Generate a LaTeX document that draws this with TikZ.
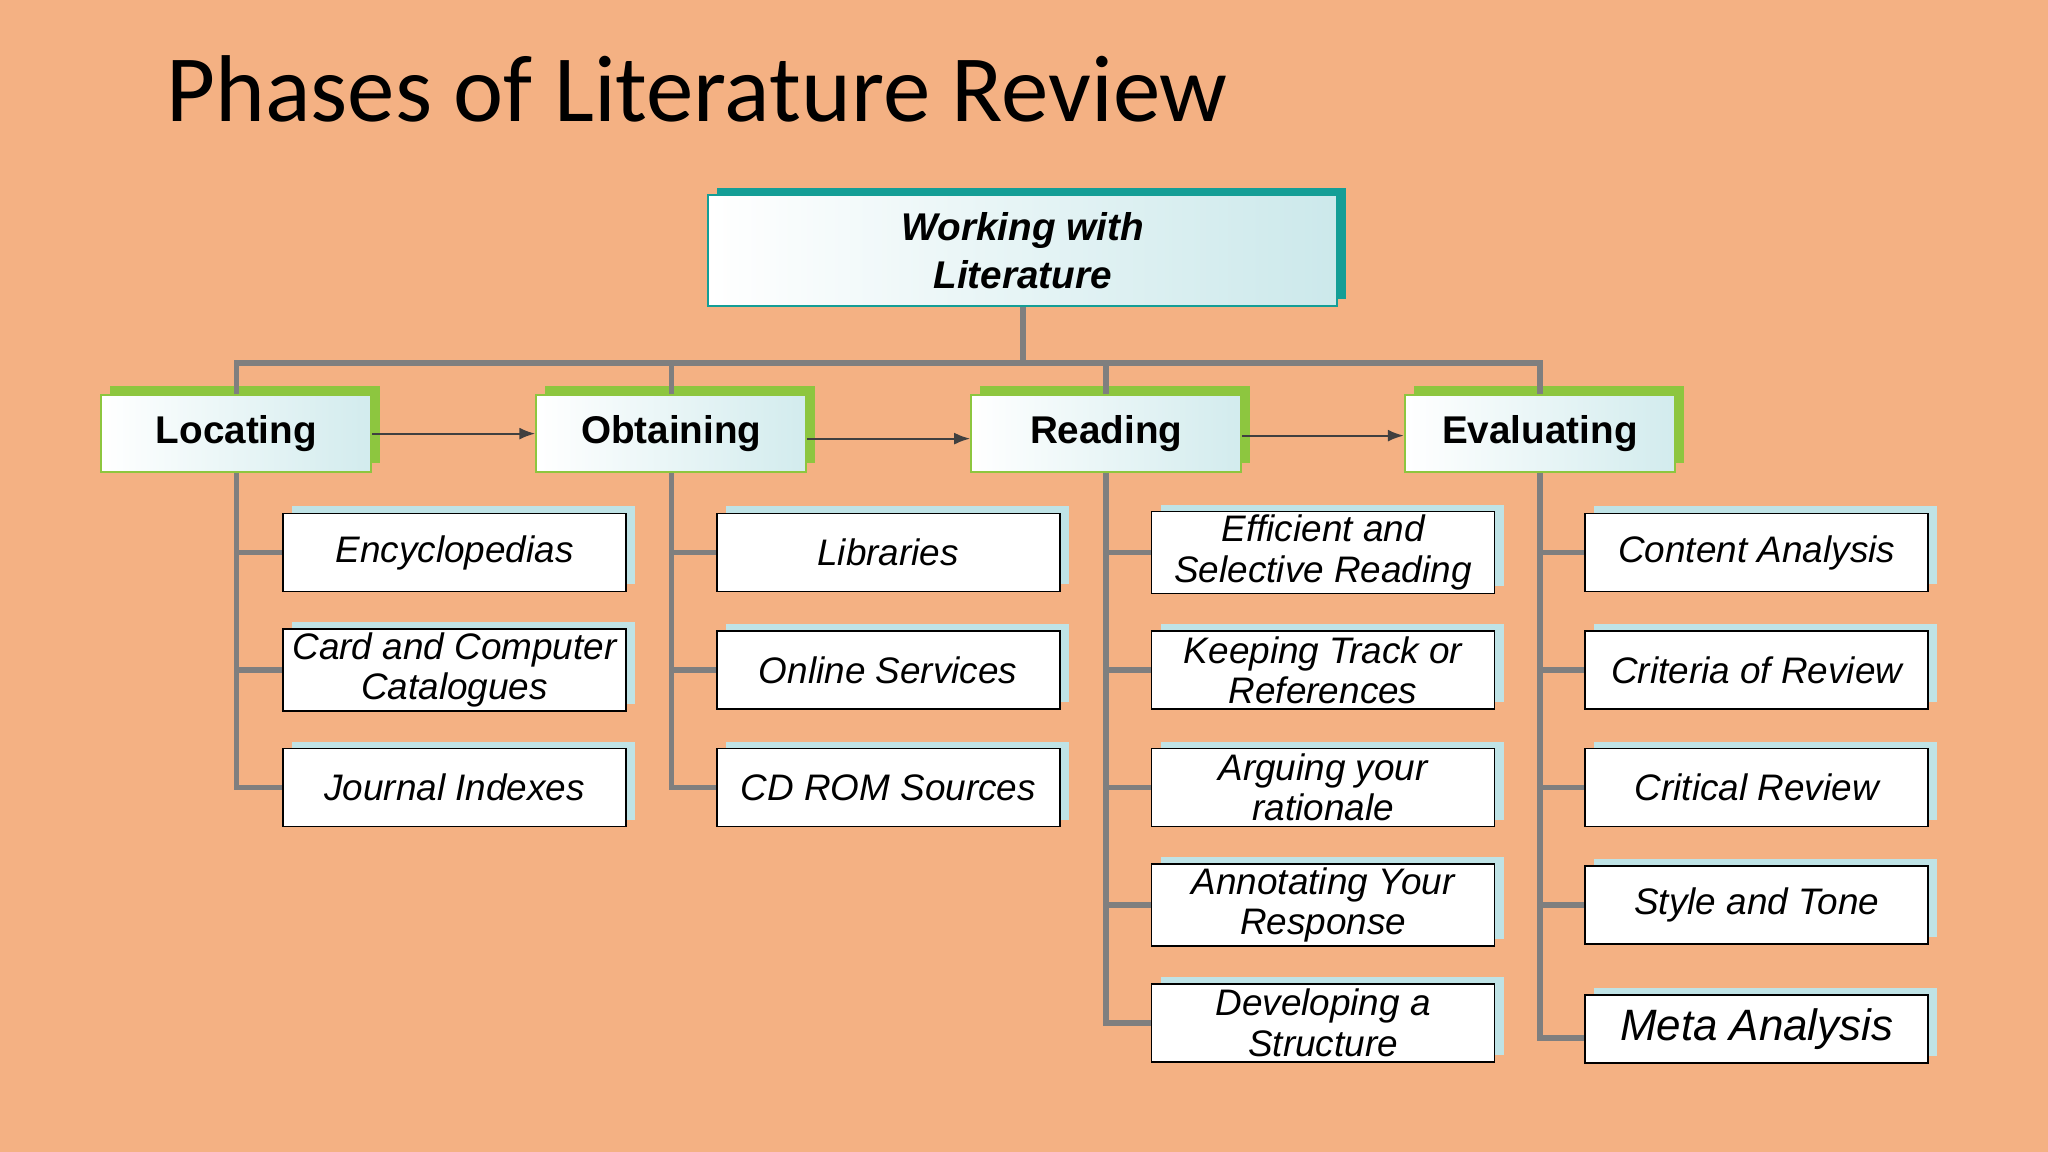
\documentclass[tikz,border=0pt]{standalone}
\usepackage{fontspec}
\setmainfont{Liberation Sans}
\newfontfamily\titlefont{Carlito}
\usetikzlibrary{shadows,arrows.meta}
\definecolor{bg}{HTML}{F4B183}
\definecolor{teal1}{HTML}{149E96}
\definecolor{lgreen}{HTML}{8DC63F}
\definecolor{lcyan}{HTML}{BFE3E6}
\definecolor{gline}{HTML}{7F7F7F}
\tikzset{
 rootbox/.style={draw=teal1, line width=0.6pt, left color=white, right color=lcyan!80, minimum width=6.29cm, minimum height=1.11cm, align=center, font=\bfseries\itshape\fontsize{11}{13.5}\selectfont, general shadow={fill=teal1, shadow xshift=0.09cm, shadow yshift=0.07cm}},
 headbox/.style={draw=lgreen, line width=0.6pt, left color=white, right color=lcyan!70, minimum width=2.70cm, minimum height=0.77cm, font=\bfseries\fontsize{11}{13}\selectfont, general shadow={fill=lgreen, shadow xshift=0.09cm, shadow yshift=0.09cm}},
 childbox/.style={draw=black, line width=0.5pt, fill=white, minimum width=3.43cm, minimum height=0.78cm, align=center, inner sep=1pt, font=\itshape\fontsize{10.5}{11.5}\selectfont, general shadow={fill=lcyan, shadow xshift=0.09cm, shadow yshift=0.07cm}},
 conn/.style={draw=gline, line width=1.6pt},
 flow/.style={draw=black!75, line width=0.6pt, -{Latex[length=1.6mm,width=1.2mm]}}
}
\begin{document}
\begin{tikzpicture}[x=0.01306cm,y=-0.01306cm]
\fill[bg] (0,0) rectangle (1568,882);
\useasboundingbox (0,0) rectangle (1568,882);
\node[anchor=west, font=\titlefont\fontsize{27}{30}\selectfont] (title) at (118,68) {Phases of Literature Review};
\node[rootbox] (root) at (783,192) {Working with\\Literature};
\node[headbox] (h1) at (181,332) {Locating};
\node[headbox] (h2) at (514,332) {Obtaining};
\node[headbox] (h3) at (847,332) {Reading};
\node[headbox] (h4) at (1179,332) {Evaluating};
\coordinate (j) at (783,278);
\draw[conn] (root.south) -- (j);
\draw[conn] (h1.north) -- (h1.north |- j) -- (h4.north |- j) -- (h4.north);
\draw[conn] (h2.north) -- (h2.north |- j);
\draw[conn] (h3.north) -- (h3.north |- j);
\draw[flow] (h1.east) -- (h2.west);
\draw[flow] ([yshift=-0.05cm]h2.east) -- ([yshift=-0.05cm]h3.west);
\draw[flow] ([yshift=-0.02cm]h3.east) -- ([yshift=-0.02cm]h4.west);
% children
\node[childbox] (a1) at (348,423) {Encyclopedias};
\node[childbox] (a2) at (348,513) {Card and Computer\\Catalogues};
\node[childbox] (a3) at (348,603) {Journal Indexes};
\node[childbox] (b1) at (680,423) {Libraries};
\node[childbox] (b2) at (680,513) {Online Services};
\node[childbox] (b3) at (680,603) {CD ROM Sources};
\node[childbox] (c1) at (1013,423) {Efficient and\\Selective Reading};
\node[childbox] (c2) at (1013,513) {Keeping Track or\\References};
\node[childbox] (c3) at (1013,603) {Arguing your\\rationale};
\node[childbox] (c4) at (1013,693) {Annotating Your\\Response};
\node[childbox] (c5) at (1013,783) {Developing a\\Structure};
\node[childbox] (d1) at (1345,423) {Content Analysis};
\node[childbox] (d2) at (1345,513) {Criteria of Review};
\node[childbox] (d3) at (1345,603) {Critical Review};
\node[childbox] (d4) at (1345,693) {Style and Tone};
\node[childbox, font=\itshape\fontsize{12.5}{14}\selectfont, minimum height=0.68cm] (d5) at (1345,788) {Meta Analysis};
% trunks
\draw[conn] (h1.south) -- (h1.south |- a3.west) -- (a3.west);
\draw[conn] (h1.south |- a1.west) -- (a1.west);
\draw[conn] (h1.south |- a2.west) -- (a2.west);
\draw[conn] (h2.south) -- (h2.south |- b3.west) -- (b3.west);
\draw[conn] (h2.south |- b1.west) -- (b1.west);
\draw[conn] (h2.south |- b2.west) -- (b2.west);
\draw[conn] (h3.south) -- (h3.south |- c5.west) -- (c5.west);
\foreach \n in {c1,c2,c3,c4} \draw[conn] (h3.south |- \n.west) -- (\n.west);
\draw[conn] (h4.south) -- ([yshift=-0.09cm]h4.south |- d5.west) -- ([yshift=-0.09cm]d5.west);
\foreach \n in {d1,d2,d3,d4} \draw[conn] (h4.south |- \n.west) -- (\n.west);
\end{tikzpicture}
\end{document}
